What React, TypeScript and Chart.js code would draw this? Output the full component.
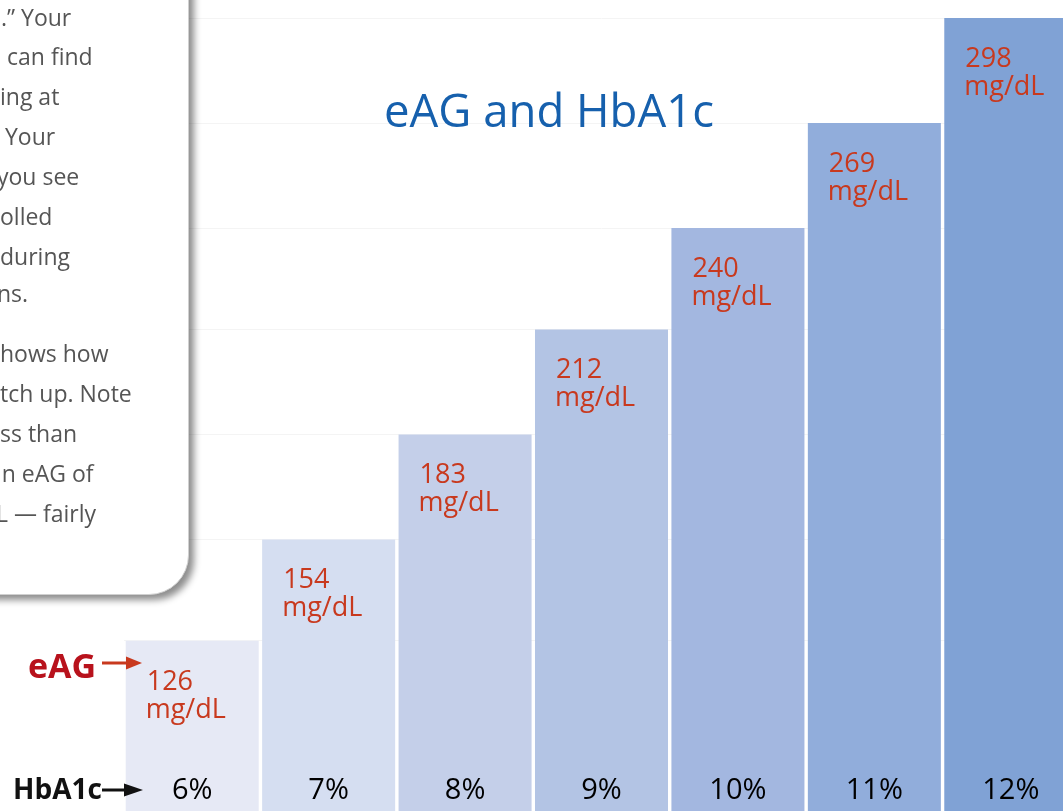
import React, { useEffect, useRef } from "react";
import { Chart, registerables } from "chart.js";

Chart.register(...registerables);

// ---- data ----
const hba1cLabels = ["6%", "7%", "8%", "9%", "10%", "11%", "12%"];
const eagValues = [126, 154, 183, 212, 240, 269, 298];
const eagUnit = "mg/dL";
const barColors = ["#e6e9f5", "#d5def1", "#c4cfe9", "#b3c4e4", "#a3b7e0", "#91addb", "#80a2d5"];
const titleText = "eAG and HbA1c";
const eagAxisName = "eAG";
const hba1cAxisName = "HbA1c";
const sidebarLines = [
  ".\u201D Your",
  "can find",
  "ing at",
  "Your",
  "you see",
  "olled",
  "during",
  "ns.",
  "hows how",
  "tch up. Note",
  "ss than",
  "an eAG of",
  "L \u2014 fairly",
];

const FONT = "'Open Sans', 'Noto Sans', sans-serif";

function drawArrow(ctx: CanvasRenderingContext2D, x0: number, x1: number, y: number, color: string, headLen: number, headH: number) {
  ctx.save();
  ctx.strokeStyle = color;
  ctx.fillStyle = color;
  ctx.lineWidth = 3;
  ctx.beginPath();
  ctx.moveTo(x0, y);
  ctx.lineTo(x1 - headLen + 1, y);
  ctx.stroke();
  ctx.beginPath();
  ctx.moveTo(x1, y);
  ctx.lineTo(x1 - headLen, y - headH / 2);
  ctx.lineTo(x1 - headLen, y + headH / 2);
  ctx.closePath();
  ctx.fill();
  ctx.restore();
}

const labelPlugin = {
  id: "eagLabels",
  afterDatasetsDraw(chart: any) {
    const ctx: CanvasRenderingContext2D = chart.ctx;
    const meta = chart.getDatasetMeta(0);
    ctx.save();
    meta.data.forEach((bar: any, i: number) => {
      const left = bar.x - bar.width / 2;
      ctx.fillStyle = "#c8391e";
      ctx.font = `27px ${FONT}`;
      ctx.textAlign = "left";
      ctx.textBaseline = "alphabetic";
      ctx.fillText(String(eagValues[i]), left + 21, bar.y + 49);
      ctx.fillText(eagUnit, left + 20, bar.y + 77);
      // HbA1c category label at bottom of the bar
      ctx.fillStyle = "#000000";
      ctx.font = `29px ${FONT}`;
      ctx.textAlign = "center";
      const xs = chart.scales.x;
      ctx.fillText(hba1cLabels[i], xs.getPixelForValue(i), 799);
    });
    ctx.restore();
  },
  afterDraw(chart: any) {
    const ctx: CanvasRenderingContext2D = chart.ctx;
    ctx.save();
    // title
    ctx.fillStyle = "#1660ad";
    ctx.font = `45.5px ${FONT}`;
    ctx.textAlign = "center";
    ctx.textBaseline = "alphabetic";
    ctx.fillText(titleText, 549, 127);
    // eAG side label
    ctx.fillStyle = "#b8121c";
    ctx.font = `bold 34px ${FONT}`;
    ctx.textAlign = "left";
    ctx.fillText(eagAxisName, 28, 678);
    drawArrow(ctx, 102, 142, 663, "#c8391e", 16, 13);
    // HbA1c side label
    ctx.fillStyle = "#111111";
    ctx.font = `bold 28px ${FONT}`;
    ctx.fillText(hba1cAxisName, 13, 799);
    drawArrow(ctx, 102, 143, 790, "#111111", 19, 13);
    ctx.restore();
  },
};

export default function App() {
  const canvasRef = useRef<HTMLCanvasElement | null>(null);

  useEffect(() => {
    if (!canvasRef.current) return;
    const chart = new Chart(canvasRef.current, {
      type: "bar",
      data: {
        labels: hba1cLabels,
        datasets: [
          {
            data: eagValues,
            backgroundColor: barColors,
            borderWidth: 0,
            categoryPercentage: 1,
            barPercentage: 0.975,
          },
        ],
      },
      options: {
        responsive: false,
        animation: false,
        devicePixelRatio: 1,
        layout: { padding: { left: 124, right: 0, top: 0, bottom: 0 } },
        plugins: {
          legend: { display: false },
          tooltip: { enabled: false },
          title: { display: false },
        },
        scales: {
          x: { display: false },
          y: {
            display: true,
            min: 79,
            max: 303,
            ticks: { display: false },
            border: { display: false },
            grid: { color: "#f4f4f4", drawTicks: false, lineWidth: 1 },
            afterBuildTicks: (scale: any) => {
              scale.ticks = eagValues.map((v) => ({ value: v }));
            },
          },
        },
      },
      plugins: [labelPlugin],
    } as any);
    return () => chart.destroy();
  }, []);

  const lefts = [1, 7, 0, 5, -3, 0, 0, -3, 0, 0, 0, -11, -4];
  const baselines = [26, 65, 105, 145, 185, 225, 265, 302, 362, 402, 442, 482, 522];
  const boxLeft = -300;
  const boxTop = -40;

  return (
    <div
      style={{
        position: "fixed",
        left: 0,
        top: 0,
        width: 1063,
        height: 811,
        overflow: "hidden",
        background: "#ffffff",
      }}
    >
      <canvas ref={canvasRef} width={1079} height={811} style={{ display: "block", position: "absolute", left: 0, top: 0 }} />
      <div
        style={{
          position: "absolute",
          left: boxLeft,
          top: boxTop,
          width: 189 - boxLeft,
          height: 595 - boxTop,
          background: "#ffffff",
          borderRadius: "0 0 40px 0",
          border: "1px solid #d0d0d0",
          boxSizing: "border-box",
          boxShadow: "5px 5px 7px rgba(0,0,0,0.45)",
          overflow: "hidden",
        }}
      >
        {sidebarLines.map((t, i) => (
          <div
            key={i}
            style={{
              position: "absolute",
              left: lefts[i] - boxLeft - 1,
              top: baselines[i] - 20 - boxTop - 1,
              fontFamily: FONT,
              fontSize: 23,
              lineHeight: "23px",
              color: "#555555",
              whiteSpace: "pre",
            }}
          >
            {t}
          </div>
        ))}
      </div>
    </div>
  );
}
